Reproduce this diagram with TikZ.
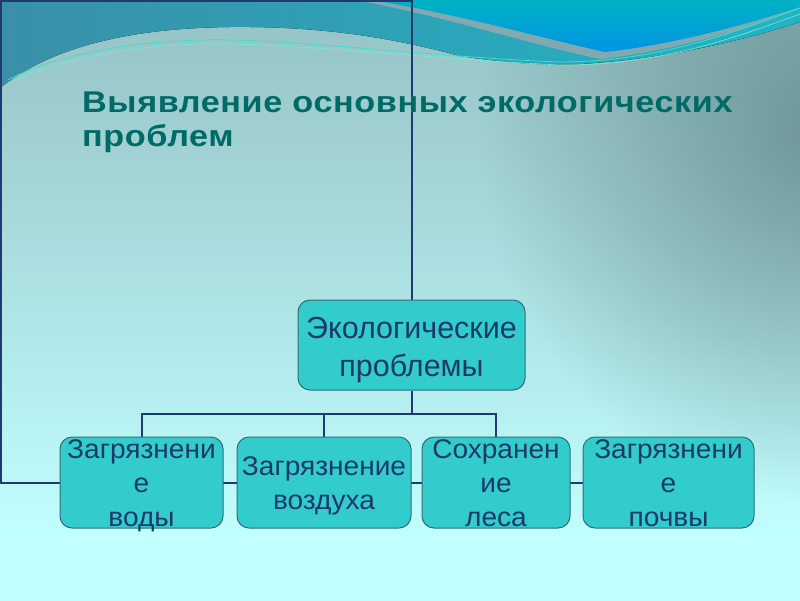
\documentclass[tikz,border=0pt]{standalone}
\usepackage{fontspec}
\setmainfont{Liberation Sans}
\newfontfamily\titlesans[FakeStretch=1.14,LetterSpace=2]{Liberation Sans}
\newfontfamily\boxsans[FakeStretch=1.04]{Liberation Sans}
\usetikzlibrary{fadings}

\definecolor{bgtop}{HTML}{7CA5A8}
\definecolor{bgmid}{HTML}{A2D2D4}
\definecolor{bgbot}{HTML}{C2FFFF}
\definecolor{bgright}{HTML}{628889}
\definecolor{wavea}{HTML}{3A90A8}
\definecolor{waveb}{HTML}{22B4C6}
\definecolor{bluetop}{HTML}{00B2C2}
\definecolor{bluebot}{HTML}{0094E4}
\definecolor{stripe}{HTML}{82A8B0}
\definecolor{waveline}{HTML}{3FE0C8}
\definecolor{titlecol}{HTML}{006A66}
\definecolor{boxfill}{HTML}{33CCCC}
\definecolor{boxline}{HTML}{2F7078}
\definecolor{textcol}{HTML}{1B3A68}
\definecolor{linkcol}{HTML}{1F3A6E}

\pgfdeclareverticalshading{slidebg}{100bp}{color(0bp)=(bgbot); color(30bp)=(bgbot); color(62bp)=(bgmid); color(100bp)=(bgtop)}
\tikzfading[name=rightspot, inner color=transparent!0, outer color=transparent!100]

\pgfdeclarelayer{bg}
\pgfdeclarelayer{links}
\pgfsetlayers{bg,links,main}

% text of a box, centred and allowed to run over the edges
\newcommand{\celltext}[2][9.5pt]{\raisebox{-#1}[0pt][0pt]{\begin{tabular}{@{}c@{}}#2\end{tabular}}}

\tikzset{
  problem/.style={draw=boxline, fill=boxfill, rounded corners=12pt, line width=1pt,
    minimum height=91pt, inner sep=0pt, text=textcol},
  subproblem/.style={problem, font=\boxsans\fontsize{27}{34}\selectfont},
  link/.style={draw=linkcol, line width=2pt},
}

\begin{document}
\begin{tikzpicture}[x=1pt,y=-1pt]
\useasboundingbox (0,0) rectangle (800,600);

% Background and waves
\begin{pgfonlayer}{bg}
  \begin{scope}
    \clip (0,0) rectangle (800,600);
    \shade[shading=slidebg] (0,0) rectangle (800,600);
    \fill[bgright, fill opacity=0.8, path fading=rightspot] (480,-240) rectangle (1160,500);

    \fill[left color=wavea, right color=waveb] (0,0) -- (800,0) -- (800,22)
        .. controls (760,35) and (680,58) .. (580,64)
        .. controls (540,66) and (500,62) .. (460,56)
        .. controls (400,40) and (330,26) .. (230,27)
        .. controls (150,28) and (60,40) .. (0,88) -- cycle;

    \fill[stripe] (355,0) .. controls (440,15) and (540,47) .. (600,59)
        .. controls (680,50) and (760,25) .. (800,7) -- (800,0) -- cycle;
    \shade[top color=bluetop, bottom color=bluebot] (370,0)
        .. controls (450,12) and (550,40) .. (605,52)
        .. controls (680,44) and (760,20) .. (800,7) -- (800,0) -- cycle;

    \draw[waveline, line width=0.8pt] (8,80) .. controls (60,52) and (150,38) .. (233,40)
        .. controls (320,42) and (450,58) .. (560,62)
        .. controls (660,62) and (740,30) .. (800,8);
    \draw[waveline!70!white, line width=0.6pt] (12,82) .. controls (70,55) and (150,42) .. (233,44)
        .. controls (320,46) and (450,60) .. (560,65)
        .. controls (660,66) and (740,36) .. (800,14);
  \end{scope}
\end{pgfonlayer}

% Title
\node[anchor=base west, inner sep=0pt, text=titlecol, font=\titlesans\bfseries\fontsize{30}{34}\selectfont] (title) at (82,112)
    {\begin{tabular}[t]{@{}l@{}}Выявление основных экологических\\проблем\end{tabular}};

% Boxes
\node[problem, minimum width=227pt, minimum height=90pt, font=\fontsize{30.5}{38}\selectfont] (prob) at (411.5,345)
    {\celltext[11pt]{Экологические\\проблемы}};

\node[subproblem, minimum width=163pt] (voda) at (141.5,482.5) {\celltext{Загрязнени\\е\\воды}};
\node[subproblem, minimum width=174pt] (vozduh) at (324,482.5) {\celltext{Загрязнение\\воздуха}};
\node[subproblem, minimum width=148pt] (les) at (496,482.5) {\celltext{Сохранен\\ие\\леса}};
\node[subproblem, minimum width=171pt] (pochva) at (668.5,482.5) {\celltext{Загрязнени\\е\\почвы}};

% Connectors
\coordinate (corner) at (1,1);
\coordinate (bus) at (324,414);
\begin{pgfonlayer}{links}
    \draw[link] (prob.north) |- (corner) |- (pochva.west);
    \draw[link] (prob.south) -- (prob.south |- bus);
    \draw[link] (voda.north) |- (bus) -| (les.north);
    \draw[link] (vozduh.north) -- (bus);
\end{pgfonlayer}

\end{tikzpicture}
\end{document}
